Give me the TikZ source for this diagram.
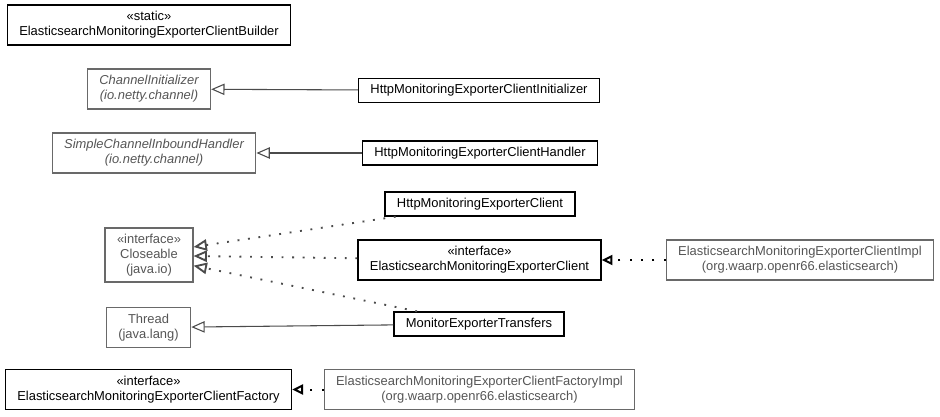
\documentclass[tikz,border=0pt]{standalone}
\usepackage{fontspec}
\setmainfont{Liberation Sans}
\usetikzlibrary{arrows.meta}
\definecolor{extgray}{RGB}{105,105,105}
\definecolor{exttext}{RGB}{85,85,85}
\definecolor{linegray}{RGB}{75,75,75}
\tikzset{
  cls/.style={draw=black, line width=1pt, inner xsep=9pt, inner ysep=1pt, minimum height=18pt, align=center, font=\fontsize{9.7pt}{11.2pt}\selectfont},
  extcls/.style={cls, draw=extgray, line width=0.85pt, text=exttext},
  twoline/.style={minimum height=30pt},
  extends/.style={draw=linegray, line width=0.8pt, -{Triangle[open,length=10pt,width=8.5pt]}},
  dependson/.style={extends, line width=1.4pt, dash pattern=on 1.4pt off 6.5pt},
  realizes/.style={draw=black, line width=1.5pt, dash pattern=on 1.5pt off 7pt, -{Triangle[open,length=8pt,width=7.5pt]}}
}
\begin{document}
\begin{tikzpicture}[x=0.75pt,y=-0.75pt]
\useasboundingbox (0,0) rectangle (940,417);
\node[cls,twoline] (builder) at (149,25) {«static»\\ElasticsearchMonitoringExporterClientBuilder};
\node[extcls,twoline] (chinit) at (149,89) {\itshape ChannelInitializer\\\itshape (io.netty.channel)};
\node[extcls,twoline] (simple) at (154,153) {\itshape SimpleChannelInboundHandler\\\itshape (io.netty.channel)};
\node[extcls,minimum height=40.5pt] (closeable) at (149,255) {«interface»\\Closeable\\(java.io)};
\node[extcls,twoline] (thread) at (148.5,327.5) {Thread\\(java.lang)};
\node[cls,twoline] (factory) at (148.5,389.5) {«interface»\\ElasticsearchMonitoringExporterClientFactory};
\node[cls] (init) at (479,90.5) {HttpMonitoringExporterClientInitializer};
\node[cls] (handler) at (480,153) {HttpMonitoringExporterClientHandler};
\node[cls] (client) at (480,204) {HttpMonitoringExporterClient};
\node[cls,twoline] (esclient) at (479.5,260) {«interface»\\ElasticsearchMonitoringExporterClient};
\node[cls] (monitor) at (479,324) {MonitorExporterTransfers};
\node[extcls,twoline] (impl) at (800,260) {ElasticsearchMonitoringExporterClientImpl\\(org.waarp.openr66.elasticsearch)};
\node[extcls,twoline] (factoryimpl) at (479.5,389.5) {ElasticsearchMonitoringExporterClientFactoryImpl\\(org.waarp.openr66.elasticsearch)};
\draw[extends] (init) -- (chinit);
\draw[extends] (handler) -- (simple);
\draw[dependson] (client) -- ([yshift=6pt]closeable.east);
\draw[dependson] (esclient) -- ([yshift=-0.75pt]closeable.east);
\draw[dependson] (monitor) -- ([yshift=-8pt]closeable.east);
\draw[extends] (monitor) -- (thread);
\draw[realizes] (impl) -- (esclient);
\draw[realizes] (factoryimpl) -- (factory);
\end{tikzpicture}
\end{document}
